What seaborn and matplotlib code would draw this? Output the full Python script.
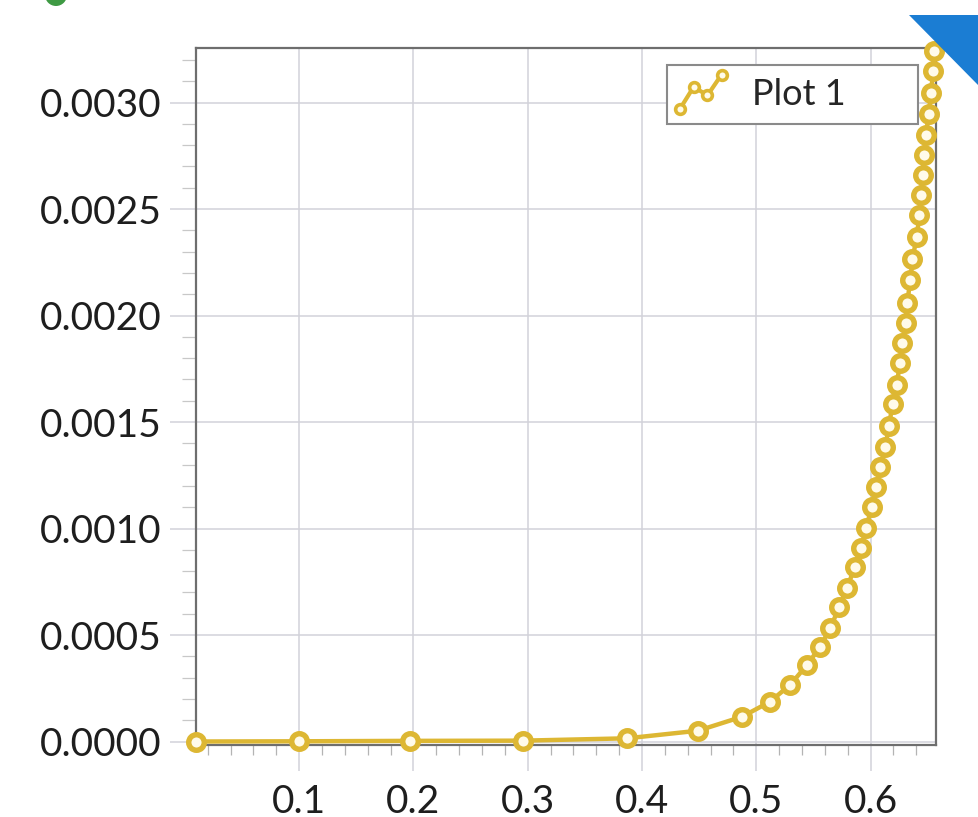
import numpy as np
import pandas as pd
import matplotlib
matplotlib.use("Agg")
import matplotlib.pyplot as plt
import seaborn as sns
from matplotlib.lines import Line2D
from matplotlib.legend_handler import HandlerBase
from matplotlib.patches import Polygon, Ellipse
from matplotlib.ticker import MultipleLocator, FormatStrFormatter

# ---- data -------------------------------------------------------------
x_vals = [0.0100, 0.0998, 0.1970, 0.2960, 0.3870, 0.4490, 0.4876, 0.5120,
          0.5299, 0.5443, 0.5556, 0.5646, 0.5726, 0.5791, 0.5863, 0.5915,
          0.5962, 0.6008, 0.6047, 0.6085, 0.6129, 0.6161, 0.6192, 0.6228,
          0.6257, 0.6277, 0.6306, 0.6320, 0.6348, 0.6366, 0.6403, 0.6427,
          0.6441, 0.6455, 0.6466, 0.6484, 0.6508, 0.6530, 0.6545, 0.6555]
y_vals = [0.0000000, 0.0000010, 0.0000030, 0.0000040, 0.0000150, 0.0000507,
          0.0001164, 0.0001869, 0.0002676, 0.0003592, 0.0004423, 0.0005315,
          0.0006315, 0.0007192, 0.0008192, 0.0009085, 0.0010047, 0.0010995,
          0.0011948, 0.0012901, 0.0013840, 0.0014836, 0.0015845, 0.0016761,
          0.0017756, 0.0018695, 0.0019662, 0.0020610, 0.0021667, 0.0022638,
          0.0023685, 0.0024718, 0.0025657, 0.0026596, 0.0027535, 0.0028474,
          0.0029460, 0.0030469, 0.0031479, 0.0032418]
series_label = "Plot 1"

GOLD = "#DDB733"
FACE = "#FFFBEA"
GRID = "#D2D2DA"
SPINE = "#6E6E6E"

# ---- style ------------------------------------------------------------
sns.set_style("white")
plt.rcParams["font.family"] = ["Lato", "DejaVu Sans"]

fig = plt.figure(figsize=(9.79, 8.17), dpi=100)
ax = fig.add_axes([196 / 979, 1 - 745 / 817, 740 / 979, 697 / 817])

df = pd.DataFrame({"x": x_vals, "y": y_vals})
sns.lineplot(data=df, x="x", y="y", ax=ax, estimator=None, sort=False,
             color=GOLD, linewidth=3.2, marker="o", markersize=11.2,
             markeredgewidth=3.9, markeredgecolor=GOLD, markerfacecolor=FACE,
             clip_on=False, zorder=5, legend=False)

ax.set_xlim(0.0098, 0.6572)
ax.set_ylim(-0.0000164, 0.003256)
ax.set_xlabel("")
ax.set_ylabel("")

# ticks and grid
ax.xaxis.set_major_locator(MultipleLocator(0.1))
ax.xaxis.set_minor_locator(MultipleLocator(0.02))
ax.yaxis.set_major_locator(MultipleLocator(0.0005))
ax.yaxis.set_minor_locator(MultipleLocator(0.0001))
ax.xaxis.set_major_formatter(FormatStrFormatter("%.1f"))
ax.yaxis.set_major_formatter(FormatStrFormatter("%.4f"))

ax.grid(True, which="major", color=GRID, linewidth=1.1)
ax.tick_params(which="major", direction="out", length=19, width=1.1,
               color=GRID, labelsize=28, labelcolor="#1E1E1E")
ax.tick_params(axis="x", which="major", pad=9, bottom=True)
ax.tick_params(axis="y", which="major", pad=6, left=True)
ax.tick_params(axis="x", which="minor", direction="out", length=7.5,
               width=0.9, color="#B4B4B4", bottom=True)
ax.tick_params(axis="y", which="minor", direction="out", length=10,
               width=0.9, color="#C8C8C8", left=True)

for side in ["left", "right", "top", "bottom"]:
    ax.spines[side].set_visible(True)
    ax.spines[side].set_color(SPINE)
    ax.spines[side].set_linewidth(1.6)


# legend with a zig-zag line-and-marker glyph
class ZigzagHandler(HandlerBase):
    def create_artists(self, legend, orig_handle, xdescent, ydescent,
                       width, height, fontsize, trans):
        fx = np.array([0.0, 0.33, 0.66, 1.0])
        fy = np.array([-0.15, 0.72, 0.38, 1.2])
        glyph = Line2D(fx * width - xdescent, fy * height - ydescent)
        self.update_prop(glyph, orig_handle, legend)
        glyph.set_transform(trans)
        return [glyph]


handle = Line2D([], [], color=GOLD, linewidth=3.0, marker="o", markersize=7,
                markeredgewidth=2.6, markeredgecolor=GOLD, markerfacecolor=FACE)
leg = ax.legend(handles=[handle], labels=[series_label],
                handler_map={handle: ZigzagHandler()},
                loc="upper left", bbox_to_anchor=(0.6365, 0.0, 0.3392, 0.9756),
                mode="expand", borderaxespad=0, frameon=True, fancybox=False,
                edgecolor="#8A8A8A", framealpha=1, fontsize=26,
                handlelength=1.15, handletextpad=0.85, borderpad=0.36)
leg.get_frame().set_linewidth(1.5)
leg.set_zorder(6)

# corner decorations
fig.patches.append(Polygon([[909 / 979, 1 - 15 / 817], [1.0, 1 - 15 / 817],
                            [1.0, 1 - 86 / 817]], closed=True,
                           transform=fig.transFigure, facecolor="#1B7DD3",
                           edgecolor="none", zorder=10))
fig.patches.append(Ellipse((56 / 979, 1 + 5 / 817), 22 / 979, 22 / 817,
                           transform=fig.transFigure, facecolor="#3F9A44",
                           edgecolor="none", zorder=10))

fig.savefig("out.png", dpi=100)
